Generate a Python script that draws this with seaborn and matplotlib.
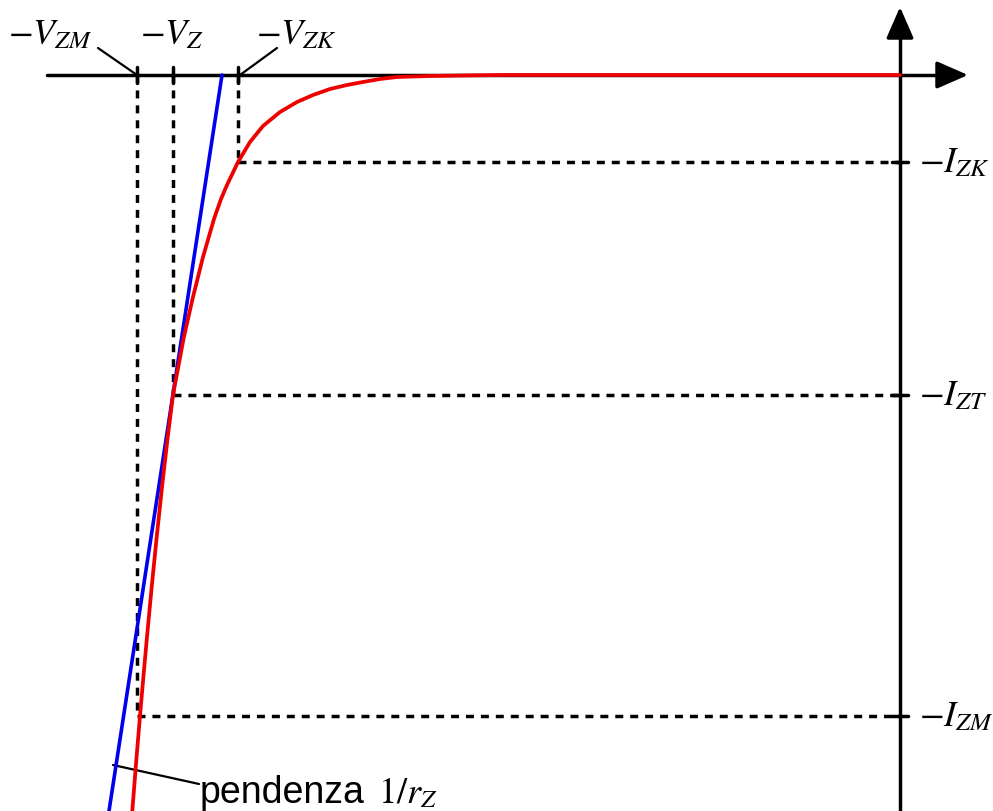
import matplotlib
matplotlib.use("Agg")
import matplotlib.pyplot as plt
import pandas as pd
import seaborn as sns

# Coordinates in drawing units (voltage to the right, current downward)
ORIGIN_V, ORIGIN_I = 900, 76

# characteristic points on the voltage axis / current axis
V_ZM, V_Z, V_ZK = 137, 173, 238
I_ZK, I_ZT, I_ZM = 163, 396, 717

# reverse characteristic of the zener (red curve)
curve_v = [900, 600, 500, 460, 430, 397, 380, 363, 347, 330, 313, 297, 280,
           263, 250, 238, 227, 221, 214, 203, 192.5, 183.5, 173, 167.5, 161.8,
           156.5, 151.5, 146.8, 143.2, 140, 136, 132.3]
curve_i = [76, 76, 76, 76.5, 77, 78, 80, 83, 86, 90, 96, 103, 113,
           127, 143, 163, 186, 200, 220, 258, 300, 340, 396, 440, 490,
           540, 590, 640, 680, 717, 765, 812]

# tangent at the test point, slope 1/r_Z (blue line)
tangent_v = [222, 109]
tangent_i = [76, 812]

sns.set_theme(style="white")
plt.rcParams["mathtext.fontset"] = "stix"
plt.rcParams["font.family"] = ["Liberation Sans", "DejaVu Sans"]
plt.rcParams["text.color"] = "black"

fig = plt.figure(figsize=(9.93, 8.12), dpi=100)
ax = fig.add_axes([0, 0, 1, 1])

LW = 2.5
arrow = dict(arrowstyle="-|>,head_length=1.6,head_width=0.7",
             color="black", lw=LW, shrinkA=0, shrinkB=0)

# axes with arrows
ax.plot([47, 950], [ORIGIN_I, ORIGIN_I], color="black", lw=LW, zorder=3)
ax.plot([ORIGIN_V, ORIGIN_V], [812, 30], color="black", lw=LW, zorder=3)
ax.annotate("", xy=(968, ORIGIN_I), xytext=(940, ORIGIN_I),
            arrowprops=arrow, zorder=4)
ax.annotate("", xy=(ORIGIN_V, 8), xytext=(ORIGIN_V, 36),
            arrowprops=arrow, zorder=4)

# dashed guides and small ticks
dash = dict(color="black", lw=2.5, dashes=(2.3, 2.0), zorder=2)
for v, i in [(V_ZK, I_ZK), (V_Z, I_ZT), (V_ZM, I_ZM)]:
    ax.plot([v, v], [ORIGIN_I, i], **dash)
    ax.plot([v, ORIGIN_V], [i, i], **dash)
    ax.plot([v, v], [ORIGIN_I - 8, ORIGIN_I + 8], color="black", lw=LW, zorder=3)
    ax.plot([ORIGIN_V - 8, ORIGIN_V + 8], [i, i], color="black", lw=LW, zorder=3)

# tangent and characteristic
df_t = pd.DataFrame({"v": tangent_v, "i": tangent_i})
sns.lineplot(data=df_t, x="v", y="i", sort=False, color="#0000ee", lw=2.6,
             ax=ax, zorder=5)
df_c = pd.DataFrame({"v": curve_v, "i": curve_i})
sns.lineplot(data=df_c, x="v", y="i", sort=False, color="#ee0000", lw=2.7,
             ax=ax, zorder=6)
ax.set_xlim(0, 993)
ax.set_ylim(812, 0)
ax.axis("off")

# labels on the voltage axis
fs = 26
ax.text(50, 44, r"$-V_{ZM}$", fontsize=fs, ha="center", va="baseline")
ax.text(172, 44, r"$-V_{Z}$", fontsize=fs, ha="center", va="baseline")
ax.text(297, 44, r"$-V_{ZK}$", fontsize=fs, ha="center", va="baseline")
ax.plot([98, V_ZM], [49, ORIGIN_I], color="black", lw=1.6)
ax.plot([277, V_ZK + 2], [49, ORIGIN_I], color="black", lw=1.6)

# labels on the current axis
for i, lab in [(I_ZK, r"$-I_{ZK}$"), (I_ZT, r"$-I_{ZT}$"), (I_ZM, r"$-I_{ZM}$")]:
    ax.text(919, i + 9, lab, fontsize=fs, ha="left", va="baseline")

# slope label
ax.plot([113, 199], [766, 785], color="black", lw=1.6)
ax.text(200, 803, "pendenza", fontsize=27, ha="left", va="baseline")
ax.text(378, 803, r"$1/r_{Z}$", fontsize=fs, ha="left", va="baseline")

fig.savefig("out.png", dpi=100)
